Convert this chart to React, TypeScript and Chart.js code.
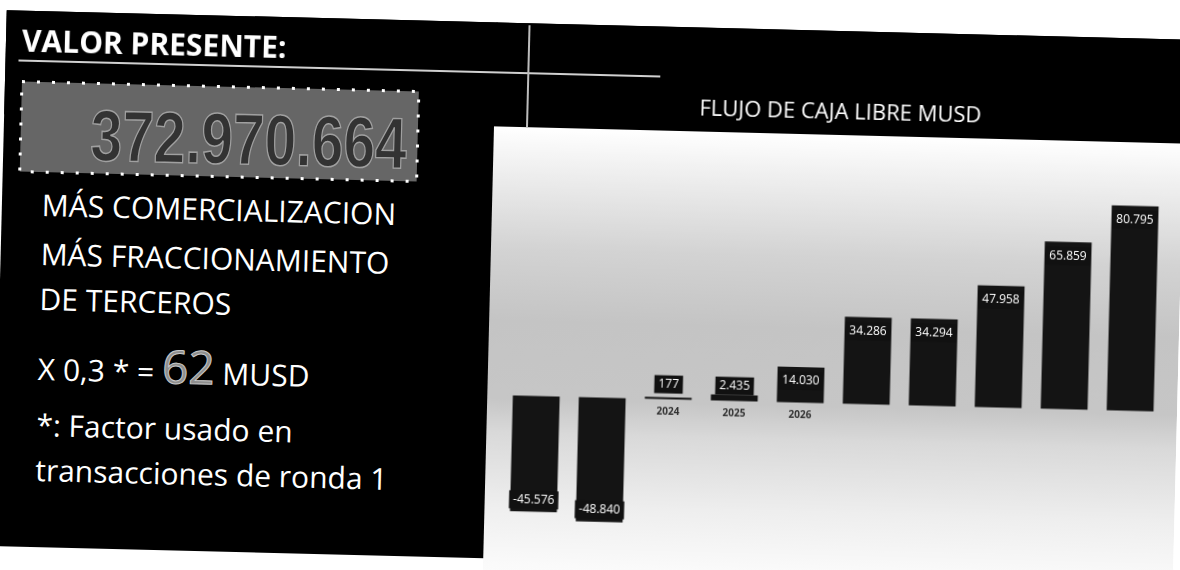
import React, { useEffect, useRef } from "react";
import { Chart, registerables } from "chart.js";

Chart.register(...registerables);

// ---- data ----
const categories = ["2022", "2023", "2024", "2025", "2026", "2027", "2028", "2029", "2030", "2031"];
const flujoCajaLibre = [-45576, -48840, 177, 2435, 14030, 34286, 34294, 47958, 65859, 80795];
// only these category labels are visible in the picture (others are hidden behind the bars)
const visibleTickLabels = ["", "", "2024", "2025", "2026", "", "", "", "", ""];
const yMin = -60000;
const yMax = 90000;
const chartTitle = "FLUJO DE CAJA LIBRE MUSD";

const valorPresente = "372.970.664";
const sideLines = ["MÁS COMERCIALIZACION", "MÁS FRACCIONAMIENTO", "DE TERCEROS"];
const factorText = "X 0,3 * = ";
const factorResult = "62";
const factorUnit = " MUSD";
const noteLines = ["*: Factor usado en", "transacciones de ronda 1"];

const fmt = (v: number) => {
  const s = Math.abs(v).toString().replace(/\B(?=(\d{3})+(?!\d))/g, ".");
  return (v < 0 ? "-" : "") + s;
};

const OPEN = "'Open Sans', 'Noto Sans', sans-serif";

function BarChart() {
  const ref = useRef<HTMLCanvasElement | null>(null);
  useEffect(() => {
    const canvas = ref.current;
    if (!canvas) return;
    const bgPlugin = {
      id: "bgPlugin",
      beforeDraw(chart: any) {
        const { ctx, width, height } = chart;
        ctx.save();
        ctx.fillStyle = "#000";
        ctx.fillRect(0, 0, width, 104);
        const g = ctx.createLinearGradient(0, 104, 0, height);
        g.addColorStop(0, "#ffffff");
        g.addColorStop(0.07, "#f2f2f2");
        g.addColorStop(0.25, "#d3d3d3");
        g.addColorStop(0.4, "#c4c4c4");
        g.addColorStop(0.56, "#c6c6c6");
        g.addColorStop(0.63, "#d9d9d9");
        g.addColorStop(0.78, "#eeeeee");
        g.addColorStop(0.9, "#fafafa");
        g.addColorStop(1, "#ffffff");
        ctx.fillStyle = g;
        ctx.fillRect(0, 104, width, height - 104);
        ctx.restore();
      },
      beforeDatasetsDraw(chart: any) {
        const { ctx } = chart;
        const xs = chart.scales.x;
        const zero = chart.scales.y.getPixelForValue(0);
        ctx.save();
        ctx.font = `bold 10px ${OPEN}`;
        ctx.fillStyle = "#333";
        ctx.textAlign = "center";
        ctx.textBaseline = "middle";
        visibleTickLabels.forEach((t, i) => {
          if (t) ctx.fillText(t, xs.getPixelForValue(i), zero + 13);
        });
        ctx.restore();
      },
    };
    const labelPlugin = {
      id: "labelPlugin",
      afterDatasetsDraw(chart: any) {
        const { ctx } = chart;
        const meta = chart.getDatasetMeta(0);
        const zero = chart.scales.y.getPixelForValue(0);
        ctx.save();
        ctx.font = `12px ${OPEN}`;
        ctx.textAlign = "center";
        ctx.textBaseline = "middle";
        meta.data.forEach((bar: any, i: number) => {
          const v = flujoCajaLibre[i];
          const { x, y } = bar.getProps(["x", "y"], true);
          const txt = fmt(v);
          const ty = v >= 0 ? Math.min(y + 14, zero - 15) : y - 12;
          const w = ctx.measureText(txt).width + 8;
          ctx.fillStyle = "#111";
          ctx.fillRect(x - w / 2, ty - 9, w, 18);
          ctx.fillStyle = "#fff";
          ctx.fillText(txt, x, ty);
        });
        ctx.restore();
      },
    };
    const chart = new Chart(canvas, {
      type: "bar",
      data: {
        labels: categories,
        datasets: [
          {
            data: flujoCajaLibre,
            backgroundColor: "#141414",
            barPercentage: 0.71,
            categoryPercentage: 1,
            minBarLength: 2,
          },
        ],
      },
      options: {
        animation: false,
        responsive: false,
        maintainAspectRatio: false,
        layout: { padding: { left: 16, right: 14, top: 0, bottom: 65 } },
        plugins: {
          legend: { display: false },
          tooltip: { enabled: false },
          title: {
            display: true,
            text: chartTitle,
            color: "#ffffff",
            font: { family: OPEN, size: 22, weight: "normal", lineHeight: 1.2 },
            padding: { top: 69, bottom: 48.6 },
          },
        },
        scales: {
          x: { display: false },
          y: { display: false, min: yMin, max: yMax },
        },
      },
      plugins: [bgPlugin, labelPlugin],
    } as any);
    return () => chart.destroy();
  }, []);
  return <canvas ref={ref} width={690} height={590} style={{ display: "block", width: 690, height: 590 }} />;
}

function Txt(props: { x: number; baseline: number; size: number; bold?: boolean; children: React.ReactNode; asc?: number }) {
  const asc = props.asc ?? 1.069 * props.size;
  return (
    <div
      style={{
        position: "absolute",
        left: props.x,
        top: props.baseline - asc,
        fontFamily: OPEN,
        fontSize: props.size,
        fontWeight: props.bold ? 700 : 400,
        lineHeight: "normal",
        color: "#fff",
        whiteSpace: "nowrap",
      }}
    >
      {props.children}
    </div>
  );
}

export default function App() {
  useEffect(() => {
    document.body.style.margin = "0";
    document.body.style.overflow = "hidden";
  }, []);
  const lineBaselines = [215.5, 264.5, 309.5];
  return (
    <div style={{ position: "fixed", left: 0, top: 0, width: 1180, height: 570, overflow: "hidden", background: "#fff" }}>
      <div style={{ position: "absolute", left: 0, top: 0, width: 1300, height: 700, transform: "rotate(1.43deg)", transformOrigin: "0 0" }}>
        {/* black band and left panel */}
        <div style={{ position: "absolute", left: 7, top: 10, width: 1300, height: 104, background: "#000" }} />
        <div style={{ position: "absolute", left: 7, top: 10, width: 491, height: 536, background: "#000" }} />
        {/* chart */}
        <div style={{ position: "absolute", left: 497, top: 10 }}>
          <BarChart />
        </div>
        {/* thin lines */}
        <div style={{ position: "absolute", left: 20, top: 59, width: 642, height: 2, background: "#d0d0d0" }} />
        <div style={{ position: "absolute", left: 529, top: 12, width: 1.5, height: 102, background: "#bdbdbd" }} />
        {/* heading */}
        <Txt x={23} baseline={51} size={30} bold>
          VALOR PRESENTE:
        </Txt>
        {/* value box */}
        <svg style={{ position: "absolute", left: 22, top: 79 }} width={402} height={95}>
          <rect x={2} y={2} width={397} height={90} fill="#666666" stroke="#ffffff" strokeWidth={3} strokeDasharray="3 12" />
        </svg>
        <div
          style={{
            position: "absolute",
            left: 94,
            top: 157 - 0.905 * 72,
            fontFamily: "'Liberation Sans', Arial, sans-serif",
            fontWeight: 700,
            fontSize: 72,
            lineHeight: "normal",
            color: "#333333",
            WebkitTextStroke: "1.5px #a0a0a0",
            whiteSpace: "nowrap",
            transform: "scaleX(0.79)",
            transformOrigin: "0 0",
          }}
        >
          {valorPresente}
        </div>
        {sideLines.map((t, i) => (
          <Txt key={t} x={47} baseline={lineBaselines[i]} size={30}>
            {t}
          </Txt>
        ))}
        <Txt x={47} baseline={379.5} size={30} asc={1.069 * 46}>
          {factorText}
          <span style={{ fontSize: 46, color: "#8e8e8e", WebkitTextStroke: "1px #c8c8c8" }}>{factorResult}</span>
          <span>{factorUnit}</span>
        </Txt>
        <Txt x={47} baseline={435.5} size={30}>
          {noteLines[0]}
        </Txt>
        <Txt x={47} baseline={480} size={30}>
          {noteLines[1]}
        </Txt>
      </div>
    </div>
  );
}
